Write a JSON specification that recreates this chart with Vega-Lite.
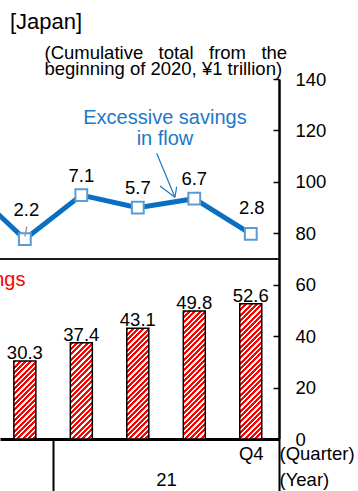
{
  "$schema": "https://vega.github.io/schema/vega-lite/v6.json",
  "width": 279,
  "height": 360,
  "autosize": "none",
  "padding": {"left": 0, "top": 79, "right": 79, "bottom": 52},
  "background": "white",
  "config": {"font": "Liberation Sans", "view": {"stroke": null}},
  "title": {"text": "[Japan]", "anchor": "start", "frame": "group", "fontSize": 22, "fontWeight": "normal", "color": "black", "dx": 10, "offset": 10},
  "data": {
    "values": [
      {"year": "2020", "quarter": "Q3", "i": 3, "flow": 8.1, "cum": 28.1},
      {"year": "2020", "quarter": "Q4", "i": 4, "flow": 2.2, "cum": 30.3},
      {"year": "2021", "quarter": "Q1", "i": 5, "flow": 7.1, "cum": 37.4},
      {"year": "2021", "quarter": "Q2", "i": 6, "flow": 5.7, "cum": 43.1},
      {"year": "2021", "quarter": "Q3", "i": 7, "flow": 6.7, "cum": 49.8},
      {"year": "2021", "quarter": "Q4", "i": 8, "flow": 2.8, "cum": 52.6}
    ]
  },
  "encoding": {
    "x": {
      "field": "i",
      "type": "quantitative",
      "scale": {"domain": [3.56, 8.5], "nice": false, "zero": false, "padding": 0},
      "axis": {
        "orient": "bottom",
        "values": [4.5, 6.5, 8, 8.5],
        "grid": false,
        "domain": true,
        "domainColor": "black",
        "domainWidth": 3,
        "ticks": true,
        "tickSize": 52,
        "tickWidth": 2,
        "tickColor": "black",
        "tickOpacity": {"condition": {"test": "datum.value == 4.5 || datum.value == 8.5", "value": 1}, "value": 0},
        "labelExpr": "datum.value == 8 ? ['Q4', ''] : datum.value == 8.5 ? ['(Quarter)', '(Year)'] : datum.value == 6.5 ? ['', '21'] : ''",
        "labelAlign": {"condition": {"test": "datum.value == 8.5", "value": "left"}, "value": "center"},
        "labelBaseline": "top",
        "labelPadding": -47,
        "labelFontSize": 18.5,
        "labelLineHeight": 26,
        "labelColor": "black",
        "labelFlush": false,
        "labelOverlap": false,
        "labelBound": false,
        "title": null
      }
    }
  },
  "layer": [
    {
      "encoding": {
        "y": {
          "field": "cum",
          "type": "quantitative",
          "scale": {"domain": [0, 140], "nice": false},
          "axis": {
            "orient": "right",
            "values": [0, 20, 40, 60, 80, 100, 120, 140],
            "grid": false,
            "domain": true,
            "domainColor": "black",
            "domainWidth": 2.5,
            "ticks": true,
            "tickSize": -6,
            "tickColor": "black",
            "tickWidth": 1.5,
            "labelPadding": 22,
            "labelAlign": "left",
            "labelBaseline": "middle",
            "labelFontSize": 18.5,
            "labelColor": "black",
            "labelFlush": false,
            "labelOverlap": false,
            "labelBound": false,
            "title": ["(Cumulative\u00a0\u00a0\u00a0total\u00a0\u00a0\u00a0from\u00a0\u00a0\u00a0the", "beginning of 2020, ¥1 trillion)"],
            "titleAngle": 0,
            "titleAlign": "left",
            "titleBaseline": "alphabetic",
            "titleX": -235,
            "titleY": -20.5,
            "titleFontSize": 18.5,
            "titleFontWeight": "normal",
            "titleColor": "black",
            "titleLineHeight": 15.5
          }
        }
      },
      "layer": [
        {
          "transform": [{"filter": "datum.i == 3"}],
          "mark": {"type": "bar", "orient": "vertical", "width": 22, "stroke": "black", "strokeWidth": 1.5, "fill": "#f00"}
        },
        {
          "transform": [{"filter": "datum.i == 4"}],
          "mark": {"type": "bar", "orient": "vertical", "width": 22, "stroke": "black", "strokeWidth": 1.5,
            "fill": {"gradient": "linear", "x1": 0, "y1": 0, "x2": 0.53703, "y2": 1.90192, "stops": [
              {"offset": 0, "color": "#f00"}, {"offset": 0.0183, "color": "#f00"}, {"offset": 0.0183, "color": "#fff"}, {"offset": 0.0333, "color": "#fff"},
              {"offset": 0.0333, "color": "#f00"}, {"offset": 0.0517, "color": "#f00"}, {"offset": 0.0517, "color": "#fff"}, {"offset": 0.0667, "color": "#fff"},
              {"offset": 0.0667, "color": "#f00"}, {"offset": 0.085, "color": "#f00"}, {"offset": 0.085, "color": "#fff"}, {"offset": 0.1, "color": "#fff"},
              {"offset": 0.1, "color": "#f00"}, {"offset": 0.1183, "color": "#f00"}, {"offset": 0.1183, "color": "#fff"}, {"offset": 0.1333, "color": "#fff"},
              {"offset": 0.1333, "color": "#f00"}, {"offset": 0.1517, "color": "#f00"}, {"offset": 0.1517, "color": "#fff"}, {"offset": 0.1667, "color": "#fff"},
              {"offset": 0.1667, "color": "#f00"}, {"offset": 0.185, "color": "#f00"}, {"offset": 0.185, "color": "#fff"}, {"offset": 0.2, "color": "#fff"},
              {"offset": 0.2, "color": "#f00"}, {"offset": 0.2183, "color": "#f00"}, {"offset": 0.2183, "color": "#fff"}, {"offset": 0.2333, "color": "#fff"},
              {"offset": 0.2333, "color": "#f00"}, {"offset": 0.2517, "color": "#f00"}, {"offset": 0.2517, "color": "#fff"}, {"offset": 0.2667, "color": "#fff"},
              {"offset": 0.2667, "color": "#f00"}, {"offset": 0.285, "color": "#f00"}, {"offset": 0.285, "color": "#fff"}, {"offset": 0.3, "color": "#fff"},
              {"offset": 0.3, "color": "#f00"}, {"offset": 0.3183, "color": "#f00"}, {"offset": 0.3183, "color": "#fff"}, {"offset": 0.3333, "color": "#fff"},
              {"offset": 0.3333, "color": "#f00"}, {"offset": 0.3517, "color": "#f00"}, {"offset": 0.3517, "color": "#fff"}, {"offset": 0.3667, "color": "#fff"},
              {"offset": 0.3667, "color": "#f00"}, {"offset": 0.385, "color": "#f00"}, {"offset": 0.385, "color": "#fff"}, {"offset": 0.4, "color": "#fff"},
              {"offset": 0.4, "color": "#f00"}, {"offset": 0.4183, "color": "#f00"}, {"offset": 0.4183, "color": "#fff"}, {"offset": 0.4333, "color": "#fff"},
              {"offset": 0.4333, "color": "#f00"}, {"offset": 0.4517, "color": "#f00"}, {"offset": 0.4517, "color": "#fff"}, {"offset": 0.4667, "color": "#fff"},
              {"offset": 0.4667, "color": "#f00"}, {"offset": 0.485, "color": "#f00"}, {"offset": 0.485, "color": "#fff"}, {"offset": 0.5, "color": "#fff"},
              {"offset": 0.5, "color": "#f00"}, {"offset": 0.5183, "color": "#f00"}, {"offset": 0.5183, "color": "#fff"}, {"offset": 0.5333, "color": "#fff"},
              {"offset": 0.5333, "color": "#f00"}, {"offset": 0.5517, "color": "#f00"}, {"offset": 0.5517, "color": "#fff"}, {"offset": 0.5667, "color": "#fff"},
              {"offset": 0.5667, "color": "#f00"}, {"offset": 0.585, "color": "#f00"}, {"offset": 0.585, "color": "#fff"}, {"offset": 0.6, "color": "#fff"},
              {"offset": 0.6, "color": "#f00"}, {"offset": 0.6183, "color": "#f00"}, {"offset": 0.6183, "color": "#fff"}, {"offset": 0.6333, "color": "#fff"}
            ]}
          }
        },
        {
          "transform": [{"filter": "datum.i == 5"}],
          "mark": {"type": "bar", "orient": "vertical", "width": 22, "stroke": "black", "strokeWidth": 1.5,
            "fill": {"gradient": "linear", "x1": 0, "y1": 0, "x2": 0.36166, "y2": 1.58096, "stops": [
              {"offset": 0, "color": "#f00"}, {"offset": 0.0183, "color": "#f00"}, {"offset": 0.0183, "color": "#fff"}, {"offset": 0.0333, "color": "#fff"},
              {"offset": 0.0333, "color": "#f00"}, {"offset": 0.0517, "color": "#f00"}, {"offset": 0.0517, "color": "#fff"}, {"offset": 0.0667, "color": "#fff"},
              {"offset": 0.0667, "color": "#f00"}, {"offset": 0.085, "color": "#f00"}, {"offset": 0.085, "color": "#fff"}, {"offset": 0.1, "color": "#fff"},
              {"offset": 0.1, "color": "#f00"}, {"offset": 0.1183, "color": "#f00"}, {"offset": 0.1183, "color": "#fff"}, {"offset": 0.1333, "color": "#fff"},
              {"offset": 0.1333, "color": "#f00"}, {"offset": 0.1517, "color": "#f00"}, {"offset": 0.1517, "color": "#fff"}, {"offset": 0.1667, "color": "#fff"},
              {"offset": 0.1667, "color": "#f00"}, {"offset": 0.185, "color": "#f00"}, {"offset": 0.185, "color": "#fff"}, {"offset": 0.2, "color": "#fff"},
              {"offset": 0.2, "color": "#f00"}, {"offset": 0.2183, "color": "#f00"}, {"offset": 0.2183, "color": "#fff"}, {"offset": 0.2333, "color": "#fff"},
              {"offset": 0.2333, "color": "#f00"}, {"offset": 0.2517, "color": "#f00"}, {"offset": 0.2517, "color": "#fff"}, {"offset": 0.2667, "color": "#fff"},
              {"offset": 0.2667, "color": "#f00"}, {"offset": 0.285, "color": "#f00"}, {"offset": 0.285, "color": "#fff"}, {"offset": 0.3, "color": "#fff"},
              {"offset": 0.3, "color": "#f00"}, {"offset": 0.3183, "color": "#f00"}, {"offset": 0.3183, "color": "#fff"}, {"offset": 0.3333, "color": "#fff"},
              {"offset": 0.3333, "color": "#f00"}, {"offset": 0.3517, "color": "#f00"}, {"offset": 0.3517, "color": "#fff"}, {"offset": 0.3667, "color": "#fff"},
              {"offset": 0.3667, "color": "#f00"}, {"offset": 0.385, "color": "#f00"}, {"offset": 0.385, "color": "#fff"}, {"offset": 0.4, "color": "#fff"},
              {"offset": 0.4, "color": "#f00"}, {"offset": 0.4183, "color": "#f00"}, {"offset": 0.4183, "color": "#fff"}, {"offset": 0.4333, "color": "#fff"},
              {"offset": 0.4333, "color": "#f00"}, {"offset": 0.4517, "color": "#f00"}, {"offset": 0.4517, "color": "#fff"}, {"offset": 0.4667, "color": "#fff"},
              {"offset": 0.4667, "color": "#f00"}, {"offset": 0.485, "color": "#f00"}, {"offset": 0.485, "color": "#fff"}, {"offset": 0.5, "color": "#fff"},
              {"offset": 0.5, "color": "#f00"}, {"offset": 0.5183, "color": "#f00"}, {"offset": 0.5183, "color": "#fff"}, {"offset": 0.5333, "color": "#fff"},
              {"offset": 0.5333, "color": "#f00"}, {"offset": 0.5517, "color": "#f00"}, {"offset": 0.5517, "color": "#fff"}, {"offset": 0.5667, "color": "#fff"},
              {"offset": 0.5667, "color": "#f00"}, {"offset": 0.585, "color": "#f00"}, {"offset": 0.585, "color": "#fff"}, {"offset": 0.6, "color": "#fff"},
              {"offset": 0.6, "color": "#f00"}, {"offset": 0.6183, "color": "#f00"}, {"offset": 0.6183, "color": "#fff"}, {"offset": 0.6333, "color": "#fff"},
              {"offset": 0.6333, "color": "#f00"}, {"offset": 0.6517, "color": "#f00"}, {"offset": 0.6517, "color": "#fff"}, {"offset": 0.6667, "color": "#fff"},
              {"offset": 0.6667, "color": "#f00"}, {"offset": 0.685, "color": "#f00"}, {"offset": 0.685, "color": "#fff"}, {"offset": 0.7, "color": "#fff"},
              {"offset": 0.7, "color": "#f00"}, {"offset": 0.7183, "color": "#f00"}, {"offset": 0.7183, "color": "#fff"}, {"offset": 0.7333, "color": "#fff"},
              {"offset": 0.7333, "color": "#f00"}, {"offset": 0.7517, "color": "#f00"}, {"offset": 0.7517, "color": "#fff"}, {"offset": 0.7667, "color": "#fff"}
            ]}
          }
        },
        {
          "transform": [{"filter": "datum.i == 6"}],
          "mark": {"type": "bar", "orient": "vertical", "width": 22, "stroke": "black", "strokeWidth": 1.5,
            "fill": {"gradient": "linear", "x1": 0, "y1": 0, "x2": 0.27571, "y2": 1.38894, "stops": [
              {"offset": 0, "color": "#f00"}, {"offset": 0.0183, "color": "#f00"}, {"offset": 0.0183, "color": "#fff"}, {"offset": 0.0333, "color": "#fff"},
              {"offset": 0.0333, "color": "#f00"}, {"offset": 0.0517, "color": "#f00"}, {"offset": 0.0517, "color": "#fff"}, {"offset": 0.0667, "color": "#fff"},
              {"offset": 0.0667, "color": "#f00"}, {"offset": 0.085, "color": "#f00"}, {"offset": 0.085, "color": "#fff"}, {"offset": 0.1, "color": "#fff"},
              {"offset": 0.1, "color": "#f00"}, {"offset": 0.1183, "color": "#f00"}, {"offset": 0.1183, "color": "#fff"}, {"offset": 0.1333, "color": "#fff"},
              {"offset": 0.1333, "color": "#f00"}, {"offset": 0.1517, "color": "#f00"}, {"offset": 0.1517, "color": "#fff"}, {"offset": 0.1667, "color": "#fff"},
              {"offset": 0.1667, "color": "#f00"}, {"offset": 0.185, "color": "#f00"}, {"offset": 0.185, "color": "#fff"}, {"offset": 0.2, "color": "#fff"},
              {"offset": 0.2, "color": "#f00"}, {"offset": 0.2183, "color": "#f00"}, {"offset": 0.2183, "color": "#fff"}, {"offset": 0.2333, "color": "#fff"},
              {"offset": 0.2333, "color": "#f00"}, {"offset": 0.2517, "color": "#f00"}, {"offset": 0.2517, "color": "#fff"}, {"offset": 0.2667, "color": "#fff"},
              {"offset": 0.2667, "color": "#f00"}, {"offset": 0.285, "color": "#f00"}, {"offset": 0.285, "color": "#fff"}, {"offset": 0.3, "color": "#fff"},
              {"offset": 0.3, "color": "#f00"}, {"offset": 0.3183, "color": "#f00"}, {"offset": 0.3183, "color": "#fff"}, {"offset": 0.3333, "color": "#fff"},
              {"offset": 0.3333, "color": "#f00"}, {"offset": 0.3517, "color": "#f00"}, {"offset": 0.3517, "color": "#fff"}, {"offset": 0.3667, "color": "#fff"},
              {"offset": 0.3667, "color": "#f00"}, {"offset": 0.385, "color": "#f00"}, {"offset": 0.385, "color": "#fff"}, {"offset": 0.4, "color": "#fff"},
              {"offset": 0.4, "color": "#f00"}, {"offset": 0.4183, "color": "#f00"}, {"offset": 0.4183, "color": "#fff"}, {"offset": 0.4333, "color": "#fff"},
              {"offset": 0.4333, "color": "#f00"}, {"offset": 0.4517, "color": "#f00"}, {"offset": 0.4517, "color": "#fff"}, {"offset": 0.4667, "color": "#fff"},
              {"offset": 0.4667, "color": "#f00"}, {"offset": 0.485, "color": "#f00"}, {"offset": 0.485, "color": "#fff"}, {"offset": 0.5, "color": "#fff"},
              {"offset": 0.5, "color": "#f00"}, {"offset": 0.5183, "color": "#f00"}, {"offset": 0.5183, "color": "#fff"}, {"offset": 0.5333, "color": "#fff"},
              {"offset": 0.5333, "color": "#f00"}, {"offset": 0.5517, "color": "#f00"}, {"offset": 0.5517, "color": "#fff"}, {"offset": 0.5667, "color": "#fff"},
              {"offset": 0.5667, "color": "#f00"}, {"offset": 0.585, "color": "#f00"}, {"offset": 0.585, "color": "#fff"}, {"offset": 0.6, "color": "#fff"},
              {"offset": 0.6, "color": "#f00"}, {"offset": 0.6183, "color": "#f00"}, {"offset": 0.6183, "color": "#fff"}, {"offset": 0.6333, "color": "#fff"},
              {"offset": 0.6333, "color": "#f00"}, {"offset": 0.6517, "color": "#f00"}, {"offset": 0.6517, "color": "#fff"}, {"offset": 0.6667, "color": "#fff"},
              {"offset": 0.6667, "color": "#f00"}, {"offset": 0.685, "color": "#f00"}, {"offset": 0.685, "color": "#fff"}, {"offset": 0.7, "color": "#fff"},
              {"offset": 0.7, "color": "#f00"}, {"offset": 0.7183, "color": "#f00"}, {"offset": 0.7183, "color": "#fff"}, {"offset": 0.7333, "color": "#fff"},
              {"offset": 0.7333, "color": "#f00"}, {"offset": 0.7517, "color": "#f00"}, {"offset": 0.7517, "color": "#fff"}, {"offset": 0.7667, "color": "#fff"},
              {"offset": 0.7667, "color": "#f00"}, {"offset": 0.785, "color": "#f00"}, {"offset": 0.785, "color": "#fff"}, {"offset": 0.8, "color": "#fff"},
              {"offset": 0.8, "color": "#f00"}, {"offset": 0.8183, "color": "#f00"}, {"offset": 0.8183, "color": "#fff"}, {"offset": 0.8333, "color": "#fff"}
            ]}
          }
        },
        {
          "transform": [{"filter": "datum.i == 7"}],
          "mark": {"type": "bar", "orient": "vertical", "width": 22, "stroke": "black", "strokeWidth": 1.5,
            "fill": {"gradient": "linear", "x1": 0, "y1": 0, "x2": 0.2085, "y2": 1.21362, "stops": [
              {"offset": 0, "color": "#f00"}, {"offset": 0.0183, "color": "#f00"}, {"offset": 0.0183, "color": "#fff"}, {"offset": 0.0333, "color": "#fff"},
              {"offset": 0.0333, "color": "#f00"}, {"offset": 0.0517, "color": "#f00"}, {"offset": 0.0517, "color": "#fff"}, {"offset": 0.0667, "color": "#fff"},
              {"offset": 0.0667, "color": "#f00"}, {"offset": 0.085, "color": "#f00"}, {"offset": 0.085, "color": "#fff"}, {"offset": 0.1, "color": "#fff"},
              {"offset": 0.1, "color": "#f00"}, {"offset": 0.1183, "color": "#f00"}, {"offset": 0.1183, "color": "#fff"}, {"offset": 0.1333, "color": "#fff"},
              {"offset": 0.1333, "color": "#f00"}, {"offset": 0.1517, "color": "#f00"}, {"offset": 0.1517, "color": "#fff"}, {"offset": 0.1667, "color": "#fff"},
              {"offset": 0.1667, "color": "#f00"}, {"offset": 0.185, "color": "#f00"}, {"offset": 0.185, "color": "#fff"}, {"offset": 0.2, "color": "#fff"},
              {"offset": 0.2, "color": "#f00"}, {"offset": 0.2183, "color": "#f00"}, {"offset": 0.2183, "color": "#fff"}, {"offset": 0.2333, "color": "#fff"},
              {"offset": 0.2333, "color": "#f00"}, {"offset": 0.2517, "color": "#f00"}, {"offset": 0.2517, "color": "#fff"}, {"offset": 0.2667, "color": "#fff"},
              {"offset": 0.2667, "color": "#f00"}, {"offset": 0.285, "color": "#f00"}, {"offset": 0.285, "color": "#fff"}, {"offset": 0.3, "color": "#fff"},
              {"offset": 0.3, "color": "#f00"}, {"offset": 0.3183, "color": "#f00"}, {"offset": 0.3183, "color": "#fff"}, {"offset": 0.3333, "color": "#fff"},
              {"offset": 0.3333, "color": "#f00"}, {"offset": 0.3517, "color": "#f00"}, {"offset": 0.3517, "color": "#fff"}, {"offset": 0.3667, "color": "#fff"},
              {"offset": 0.3667, "color": "#f00"}, {"offset": 0.385, "color": "#f00"}, {"offset": 0.385, "color": "#fff"}, {"offset": 0.4, "color": "#fff"},
              {"offset": 0.4, "color": "#f00"}, {"offset": 0.4183, "color": "#f00"}, {"offset": 0.4183, "color": "#fff"}, {"offset": 0.4333, "color": "#fff"},
              {"offset": 0.4333, "color": "#f00"}, {"offset": 0.4517, "color": "#f00"}, {"offset": 0.4517, "color": "#fff"}, {"offset": 0.4667, "color": "#fff"},
              {"offset": 0.4667, "color": "#f00"}, {"offset": 0.485, "color": "#f00"}, {"offset": 0.485, "color": "#fff"}, {"offset": 0.5, "color": "#fff"},
              {"offset": 0.5, "color": "#f00"}, {"offset": 0.5183, "color": "#f00"}, {"offset": 0.5183, "color": "#fff"}, {"offset": 0.5333, "color": "#fff"},
              {"offset": 0.5333, "color": "#f00"}, {"offset": 0.5517, "color": "#f00"}, {"offset": 0.5517, "color": "#fff"}, {"offset": 0.5667, "color": "#fff"},
              {"offset": 0.5667, "color": "#f00"}, {"offset": 0.585, "color": "#f00"}, {"offset": 0.585, "color": "#fff"}, {"offset": 0.6, "color": "#fff"},
              {"offset": 0.6, "color": "#f00"}, {"offset": 0.6183, "color": "#f00"}, {"offset": 0.6183, "color": "#fff"}, {"offset": 0.6333, "color": "#fff"},
              {"offset": 0.6333, "color": "#f00"}, {"offset": 0.6517, "color": "#f00"}, {"offset": 0.6517, "color": "#fff"}, {"offset": 0.6667, "color": "#fff"},
              {"offset": 0.6667, "color": "#f00"}, {"offset": 0.685, "color": "#f00"}, {"offset": 0.685, "color": "#fff"}, {"offset": 0.7, "color": "#fff"},
              {"offset": 0.7, "color": "#f00"}, {"offset": 0.7183, "color": "#f00"}, {"offset": 0.7183, "color": "#fff"}, {"offset": 0.7333, "color": "#fff"},
              {"offset": 0.7333, "color": "#f00"}, {"offset": 0.7517, "color": "#f00"}, {"offset": 0.7517, "color": "#fff"}, {"offset": 0.7667, "color": "#fff"},
              {"offset": 0.7667, "color": "#f00"}, {"offset": 0.785, "color": "#f00"}, {"offset": 0.785, "color": "#fff"}, {"offset": 0.8, "color": "#fff"},
              {"offset": 0.8, "color": "#f00"}, {"offset": 0.8183, "color": "#f00"}, {"offset": 0.8183, "color": "#fff"}, {"offset": 0.8333, "color": "#fff"},
              {"offset": 0.8333, "color": "#f00"}, {"offset": 0.8517, "color": "#f00"}, {"offset": 0.8517, "color": "#fff"}, {"offset": 0.8667, "color": "#fff"},
              {"offset": 0.8667, "color": "#f00"}, {"offset": 0.885, "color": "#f00"}, {"offset": 0.885, "color": "#fff"}, {"offset": 0.9, "color": "#fff"},
              {"offset": 0.9, "color": "#f00"}, {"offset": 0.9183, "color": "#f00"}, {"offset": 0.9183, "color": "#fff"}, {"offset": 0.9333, "color": "#fff"},
              {"offset": 0.9333, "color": "#f00"}, {"offset": 0.9517, "color": "#f00"}, {"offset": 0.9517, "color": "#fff"}, {"offset": 0.9667, "color": "#fff"}
            ]}
          }
        },
        {
          "transform": [{"filter": "datum.i == 8"}],
          "mark": {"type": "bar", "orient": "vertical", "width": 22, "stroke": "black", "strokeWidth": 1.5,
            "fill": {"gradient": "linear", "x1": 0, "y1": 0, "x2": 0.18745, "y2": 1.15244, "stops": [
              {"offset": 0, "color": "#f00"}, {"offset": 0.0183, "color": "#f00"}, {"offset": 0.0183, "color": "#fff"}, {"offset": 0.0333, "color": "#fff"},
              {"offset": 0.0333, "color": "#f00"}, {"offset": 0.0517, "color": "#f00"}, {"offset": 0.0517, "color": "#fff"}, {"offset": 0.0667, "color": "#fff"},
              {"offset": 0.0667, "color": "#f00"}, {"offset": 0.085, "color": "#f00"}, {"offset": 0.085, "color": "#fff"}, {"offset": 0.1, "color": "#fff"},
              {"offset": 0.1, "color": "#f00"}, {"offset": 0.1183, "color": "#f00"}, {"offset": 0.1183, "color": "#fff"}, {"offset": 0.1333, "color": "#fff"},
              {"offset": 0.1333, "color": "#f00"}, {"offset": 0.1517, "color": "#f00"}, {"offset": 0.1517, "color": "#fff"}, {"offset": 0.1667, "color": "#fff"},
              {"offset": 0.1667, "color": "#f00"}, {"offset": 0.185, "color": "#f00"}, {"offset": 0.185, "color": "#fff"}, {"offset": 0.2, "color": "#fff"},
              {"offset": 0.2, "color": "#f00"}, {"offset": 0.2183, "color": "#f00"}, {"offset": 0.2183, "color": "#fff"}, {"offset": 0.2333, "color": "#fff"},
              {"offset": 0.2333, "color": "#f00"}, {"offset": 0.2517, "color": "#f00"}, {"offset": 0.2517, "color": "#fff"}, {"offset": 0.2667, "color": "#fff"},
              {"offset": 0.2667, "color": "#f00"}, {"offset": 0.285, "color": "#f00"}, {"offset": 0.285, "color": "#fff"}, {"offset": 0.3, "color": "#fff"},
              {"offset": 0.3, "color": "#f00"}, {"offset": 0.3183, "color": "#f00"}, {"offset": 0.3183, "color": "#fff"}, {"offset": 0.3333, "color": "#fff"},
              {"offset": 0.3333, "color": "#f00"}, {"offset": 0.3517, "color": "#f00"}, {"offset": 0.3517, "color": "#fff"}, {"offset": 0.3667, "color": "#fff"},
              {"offset": 0.3667, "color": "#f00"}, {"offset": 0.385, "color": "#f00"}, {"offset": 0.385, "color": "#fff"}, {"offset": 0.4, "color": "#fff"},
              {"offset": 0.4, "color": "#f00"}, {"offset": 0.4183, "color": "#f00"}, {"offset": 0.4183, "color": "#fff"}, {"offset": 0.4333, "color": "#fff"},
              {"offset": 0.4333, "color": "#f00"}, {"offset": 0.4517, "color": "#f00"}, {"offset": 0.4517, "color": "#fff"}, {"offset": 0.4667, "color": "#fff"},
              {"offset": 0.4667, "color": "#f00"}, {"offset": 0.485, "color": "#f00"}, {"offset": 0.485, "color": "#fff"}, {"offset": 0.5, "color": "#fff"},
              {"offset": 0.5, "color": "#f00"}, {"offset": 0.5183, "color": "#f00"}, {"offset": 0.5183, "color": "#fff"}, {"offset": 0.5333, "color": "#fff"},
              {"offset": 0.5333, "color": "#f00"}, {"offset": 0.5517, "color": "#f00"}, {"offset": 0.5517, "color": "#fff"}, {"offset": 0.5667, "color": "#fff"},
              {"offset": 0.5667, "color": "#f00"}, {"offset": 0.585, "color": "#f00"}, {"offset": 0.585, "color": "#fff"}, {"offset": 0.6, "color": "#fff"},
              {"offset": 0.6, "color": "#f00"}, {"offset": 0.6183, "color": "#f00"}, {"offset": 0.6183, "color": "#fff"}, {"offset": 0.6333, "color": "#fff"},
              {"offset": 0.6333, "color": "#f00"}, {"offset": 0.6517, "color": "#f00"}, {"offset": 0.6517, "color": "#fff"}, {"offset": 0.6667, "color": "#fff"},
              {"offset": 0.6667, "color": "#f00"}, {"offset": 0.685, "color": "#f00"}, {"offset": 0.685, "color": "#fff"}, {"offset": 0.7, "color": "#fff"},
              {"offset": 0.7, "color": "#f00"}, {"offset": 0.7183, "color": "#f00"}, {"offset": 0.7183, "color": "#fff"}, {"offset": 0.7333, "color": "#fff"},
              {"offset": 0.7333, "color": "#f00"}, {"offset": 0.7517, "color": "#f00"}, {"offset": 0.7517, "color": "#fff"}, {"offset": 0.7667, "color": "#fff"},
              {"offset": 0.7667, "color": "#f00"}, {"offset": 0.785, "color": "#f00"}, {"offset": 0.785, "color": "#fff"}, {"offset": 0.8, "color": "#fff"},
              {"offset": 0.8, "color": "#f00"}, {"offset": 0.8183, "color": "#f00"}, {"offset": 0.8183, "color": "#fff"}, {"offset": 0.8333, "color": "#fff"},
              {"offset": 0.8333, "color": "#f00"}, {"offset": 0.8517, "color": "#f00"}, {"offset": 0.8517, "color": "#fff"}, {"offset": 0.8667, "color": "#fff"},
              {"offset": 0.8667, "color": "#f00"}, {"offset": 0.885, "color": "#f00"}, {"offset": 0.885, "color": "#fff"}, {"offset": 0.9, "color": "#fff"},
              {"offset": 0.9, "color": "#f00"}, {"offset": 0.9183, "color": "#f00"}, {"offset": 0.9183, "color": "#fff"}, {"offset": 0.9333, "color": "#fff"},
              {"offset": 0.9333, "color": "#f00"}, {"offset": 0.9517, "color": "#f00"}, {"offset": 0.9517, "color": "#fff"}, {"offset": 0.9667, "color": "#fff"},
              {"offset": 0.9667, "color": "#f00"}, {"offset": 0.985, "color": "#f00"}, {"offset": 0.985, "color": "#fff"}, {"offset": 1, "color": "#fff"}
            ]}
          }
        },
        {
          "mark": {"type": "text", "baseline": "alphabetic", "dy": -2, "fontSize": 18.5, "color": "black"},
          "encoding": {"text": {"field": "cum", "type": "quantitative", "format": ".1f"}}
        },
        {
          "transform": [{"filter": "datum.i == 8"}],
          "mark": {"type": "text", "align": "right", "baseline": "alphabetic", "fontSize": 20, "color": "#ff0000", "text": "Excessive savings"},
          "encoding": {"x": {"datum": 4.011}, "y": {"datum": 59.5}}
        }
      ]
    },
    {
      "encoding": {
        "y": {"field": "flow", "type": "quantitative", "scale": {"domain": [-20, 20], "nice": false}, "axis": null}
      },
      "layer": [
        {
          "transform": [{"filter": "datum.i == 8"}],
          "mark": {"type": "rule", "color": "#1a1a1a", "strokeWidth": 2},
          "encoding": {"x": {"datum": 3.56}, "x2": {"datum": 8.5}, "y": {"datum": 0}}
        },
        {
          "mark": {"type": "line", "color": "#0a6fc2", "strokeWidth": 5}
        },
        {
          "mark": {"type": "point", "shape": "square", "size": 140, "filled": true, "fill": "white", "fillOpacity": 1, "stroke": "#5b9bd5", "strokeWidth": 2, "opacity": 1}
        },
        {
          "transform": [{"filter": "datum.i == 4"}],
          "mark": {"type": "rule", "color": "#9a9a9a", "strokeWidth": 1.5},
          "encoding": {"x": {"datum": 4.033}, "x2": {"datum": 4.003}, "y": {"datum": 3.59}, "y2": {"datum": 2.48}}
        },
        {
          "transform": [{"filter": "datum.i != 4 && datum.i != 8"}],
          "mark": {"type": "text", "baseline": "middle", "dy": -19.5, "fontSize": 18.5, "color": "black"},
          "encoding": {"text": {"field": "flow", "type": "quantitative", "format": ".1f"}}
        },
        {
          "transform": [{"filter": "datum.i == 4"}],
          "mark": {"type": "text", "baseline": "middle", "dy": -29, "dx": 1.5, "fontSize": 18.5, "color": "black"},
          "encoding": {"text": {"field": "flow", "type": "quantitative", "format": ".1f"}}
        },
        {
          "transform": [{"filter": "datum.i == 8"}],
          "mark": {"type": "text", "baseline": "middle", "dy": -25.5, "dx": 1, "fontSize": 18.5, "color": "black"},
          "encoding": {"text": {"field": "flow", "type": "quantitative", "format": ".1f"}}
        },
        {
          "transform": [{"filter": "datum.i == 6"}],
          "mark": {"type": "rule", "color": "#1c78c8", "strokeWidth": 1.2},
          "encoding": {"x": {"datum": 6.334}, "x2": {"datum": 6.658}, "y": {"datum": 11.74}, "y2": {"datum": 6.86}}
        },
        {
          "transform": [{"filter": "datum.i == 6"}],
          "mark": {"type": "rule", "color": "#1c78c8", "strokeWidth": 1.2},
          "encoding": {"x": {"datum": 6.393}, "x2": {"datum": 6.658}, "y": {"datum": 8.11}, "y2": {"datum": 6.86}}
        },
        {
          "transform": [{"filter": "datum.i == 6"}],
          "mark": {"type": "rule", "color": "#1c78c8", "strokeWidth": 1.2},
          "encoding": {"x": {"datum": 6.688}, "x2": {"datum": 6.658}, "y": {"datum": 8.03}, "y2": {"datum": 6.86}}
        },
        {
          "transform": [{"filter": "datum.i == 6"}],
          "mark": {"type": "text", "align": "center", "baseline": "alphabetic", "fontSize": 20, "lineHeight": 21, "color": "#1c78c8", "text": ["Excessive savings", "in flow"]},
          "encoding": {"x": {"datum": 6.481}, "y": {"datum": 14.97}}
        }
      ]
    }
  ],
  "resolve": {"scale": {"y": "independent"}}
}
